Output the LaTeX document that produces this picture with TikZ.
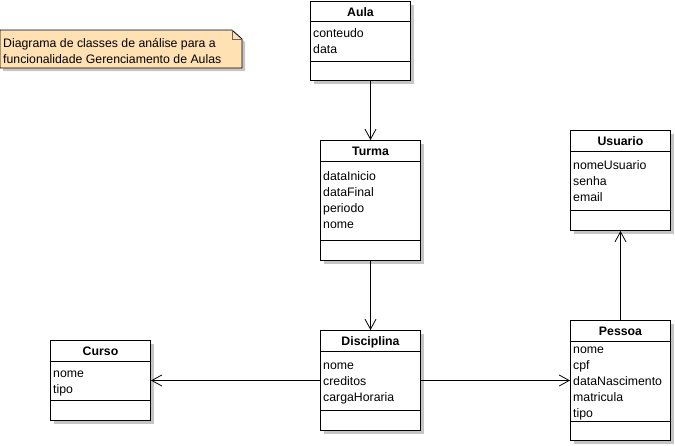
\documentclass[tikz,border=0pt]{standalone}
\usepackage{fontspec}
\setmainfont{Liberation Sans}
\usetikzlibrary{arrows.meta}
\usetikzlibrary{positioning,calc,shadows}
\usepackage{xcolor}

\definecolor{notefill}{HTML}{FFE1B4}

\tikzset{
  boxshadow/.style={drop shadow={shadow xshift=3pt,shadow yshift=-3pt,fill=black!45,opacity=0.5}},
  classbox/.style={draw,line width=1pt,fill=white,inner sep=0pt,minimum width=100pt,anchor=north west,boxshadow},
  classtitle/.style={font=\fontsize{12.3}{16}\selectfont\bfseries,anchor=base,inner sep=0pt},
  attr/.style={anchor=base west,inner sep=0pt},
  notetext/.style={anchor=base west,inner sep=0pt},
  assoc/.style={line width=0.8pt,-{Straight Barb[length=10pt,width=11pt]}}
}

\begin{document}
\begin{tikzpicture}[x=1pt,y=-1pt,font=\fontsize{12.3}{16}\selectfont]
\useasboundingbox (0,0) rectangle (675,445);

% nota
\draw [line width=0.8pt,fill=notefill,boxshadow] (0,30) -- (232,30) -- (242,39) -- (242,68) -- (0,68) -- cycle;
\draw [line width=0.5pt,black!60] (232,30) -- (232,39) -- (242,39);
\node[notetext] (note1) at (3,47.5) {Diagrama de classes de análise para a};
\node[notetext] (note2) at (3,63) {funcionalidade Gerenciamento de Aulas};

% Aula
\node[classbox,minimum height=79pt] (aula) at (310,1) {};
\draw [line width=1pt] ($(aula.north west)+(0,20)$) -- ($(aula.north east)+(0,20)$);
\draw [line width=1pt] ($(aula.north west)+(0,60)$) -- ($(aula.north east)+(0,60)$);
\node[classtitle] (aula-t) at ($(aula.north)+(0,15)$) {Aula};
\foreach \a [count=\i] in {conteudo,data}
  \node[attr] (aula-a\i) at ($(aula.north west)+(3,{36.5+16*(\i-1)})$) {\a};

% Turma
\node[classbox,minimum height=120pt] (turma) at (320,140) {};
\draw [line width=1pt] ($(turma.north west)+(0,21)$) -- ($(turma.north east)+(0,21)$);
\draw [line width=1pt] ($(turma.north west)+(0,100)$) -- ($(turma.north east)+(0,100)$);
\node[classtitle] (turma-t) at ($(turma.north)+(0,15.5)$) {Turma};
\foreach \a [count=\i] in {dataInicio,dataFinal,periodo,nome}
  \node[attr] (turma-a\i) at ($(turma.north west)+(3,{40.5+16*(\i-1)})$) {\a};

% Usuario
\node[classbox,minimum height=100pt] (usuario) at (570,130) {};
\draw [line width=1pt] ($(usuario.north west)+(0,21)$) -- ($(usuario.north east)+(0,21)$);
\draw [line width=1pt] ($(usuario.north west)+(0,80)$) -- ($(usuario.north east)+(0,80)$);
\node[classtitle] (usuario-t) at ($(usuario.north)+(0,15)$) {Usuario};
\foreach \a [count=\i] in {nomeUsuario,senha,email}
  \node[attr] (usuario-a\i) at ($(usuario.north west)+(3,{39+16*(\i-1)})$) {\a};

% Curso
\node[classbox,minimum height=80pt] (curso) at (50,340) {};
\draw [line width=1pt] ($(curso.north west)+(0,21)$) -- ($(curso.north east)+(0,21)$);
\draw [line width=1pt] ($(curso.north west)+(0,60)$) -- ($(curso.north east)+(0,60)$);
\node[classtitle] (curso-t) at ($(curso.north)+(0,15)$) {Curso};
\foreach \a [count=\i] in {nome,tipo}
  \node[attr] (curso-a\i) at ($(curso.north west)+(3,{37.5+16*(\i-1)})$) {\a};

% Disciplina
\node[classbox,minimum height=100pt] (disciplina) at (320,330) {};
\draw [line width=1pt] ($(disciplina.north west)+(0,21)$) -- ($(disciplina.north east)+(0,21)$);
\draw [line width=1pt] ($(disciplina.north west)+(0,80)$) -- ($(disciplina.north east)+(0,80)$);
\node[classtitle] (disciplina-t) at ($(disciplina.north)+(0,15)$) {Disciplina};
\foreach \a [count=\i] in {nome,creditos,cargaHoraria}
  \node[attr] (disciplina-a\i) at ($(disciplina.north west)+(3,{39+16*(\i-1)})$) {\a};

% Pessoa
\node[classbox,minimum height=120pt] (pessoa) at (570,320) {};
\draw [line width=1pt] ($(pessoa.north west)+(0,21)$) -- ($(pessoa.north east)+(0,21)$);
\draw [line width=1pt] ($(pessoa.north west)+(0,101)$) -- ($(pessoa.north east)+(0,101)$);
\node[classtitle] (pessoa-t) at ($(pessoa.north)+(0,15)$) {Pessoa};
\foreach \a [count=\i] in {nome,cpf,dataNascimento,matricula,tipo}
  \node[attr] (pessoa-a\i) at ($(pessoa.north west)+(3,{33.5+16*(\i-1)})$) {\a};

% associacoes
\draw [assoc] (turma.north |- aula.south) -- (turma.north);
\draw [assoc] (turma.south) -- (disciplina.north);
\draw [assoc] (disciplina.west) -- (curso.east);
\draw [assoc] (disciplina.east) -- (pessoa.west);
\draw [assoc] (pessoa.north) -- (usuario.south);
\end{tikzpicture}
\end{document}
